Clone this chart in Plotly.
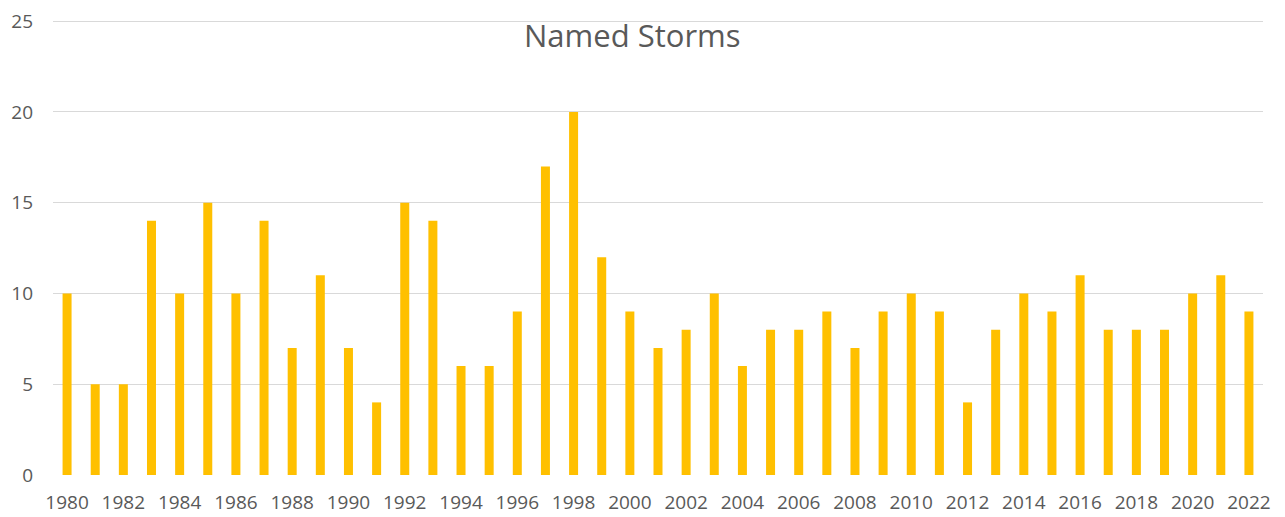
import plotly.graph_objects as go

years = list(range(1980, 2023))
named_storms = [10, 5, 5, 14, 10, 15, 10, 14, 7, 11, 7, 4, 15, 14, 6, 6, 9, 17, 20, 12,
                9, 7, 8, 10, 6, 8, 8, 9, 7, 9, 10, 9, 4, 8, 10, 9, 11, 8, 8, 8,
                10, 11, 9]
tick_years = years[::2]
y_ticks = [0, 5, 10, 15, 20, 25]

W, H = 1285, 517
L, R, T, B = 53, 22, 19, 42
font_color = "#595959"

fig = go.Figure(go.Bar(x=years, y=named_storms, marker=dict(color="#FFC000", line=dict(width=0)),
                       hoverinfo="x+y"))

fig.update_layout(
    width=W, height=H,
    margin=dict(l=L, r=R, t=T, b=B, autoexpand=False),
    paper_bgcolor="white", plot_bgcolor="white",
    bargap=0.68,
    showlegend=False,
    font=dict(family="Open Sans, Segoe UI, sans-serif", color=font_color, size=19),
    xaxis=dict(range=[1979.5, 2022.5], tickmode="array", tickvals=tick_years,
               ticktext=[str(y) for y in tick_years], showgrid=False, zeroline=False,
               showline=False, ticks="", automargin=False, ticklabelstandoff=14,
               tickfont=dict(size=19, color=font_color)),
    yaxis=dict(range=[0, 25.12], tickmode="array", tickvals=y_ticks, showgrid=True,
               gridcolor="#D9D9D9", gridwidth=1.3, zeroline=False, showline=False, ticks="",
               automargin=False, tickfont=dict(size=19, color=font_color), ticklabelstandoff=19),
    annotations=[dict(text="Named Storms",
                      x=(632 - L) / (W - L - R), y=1 - (35 - T) / (H - T - B),
                      xref="paper", yref="paper",
                      showarrow=False, xanchor="center", yanchor="middle",
                      font=dict(size=31, color=font_color))],
)

fig.write_html("out.html", config={"displayModeBar": False},
               post_script="document.body.style.margin='0';document.body.style.overflow='hidden';")
